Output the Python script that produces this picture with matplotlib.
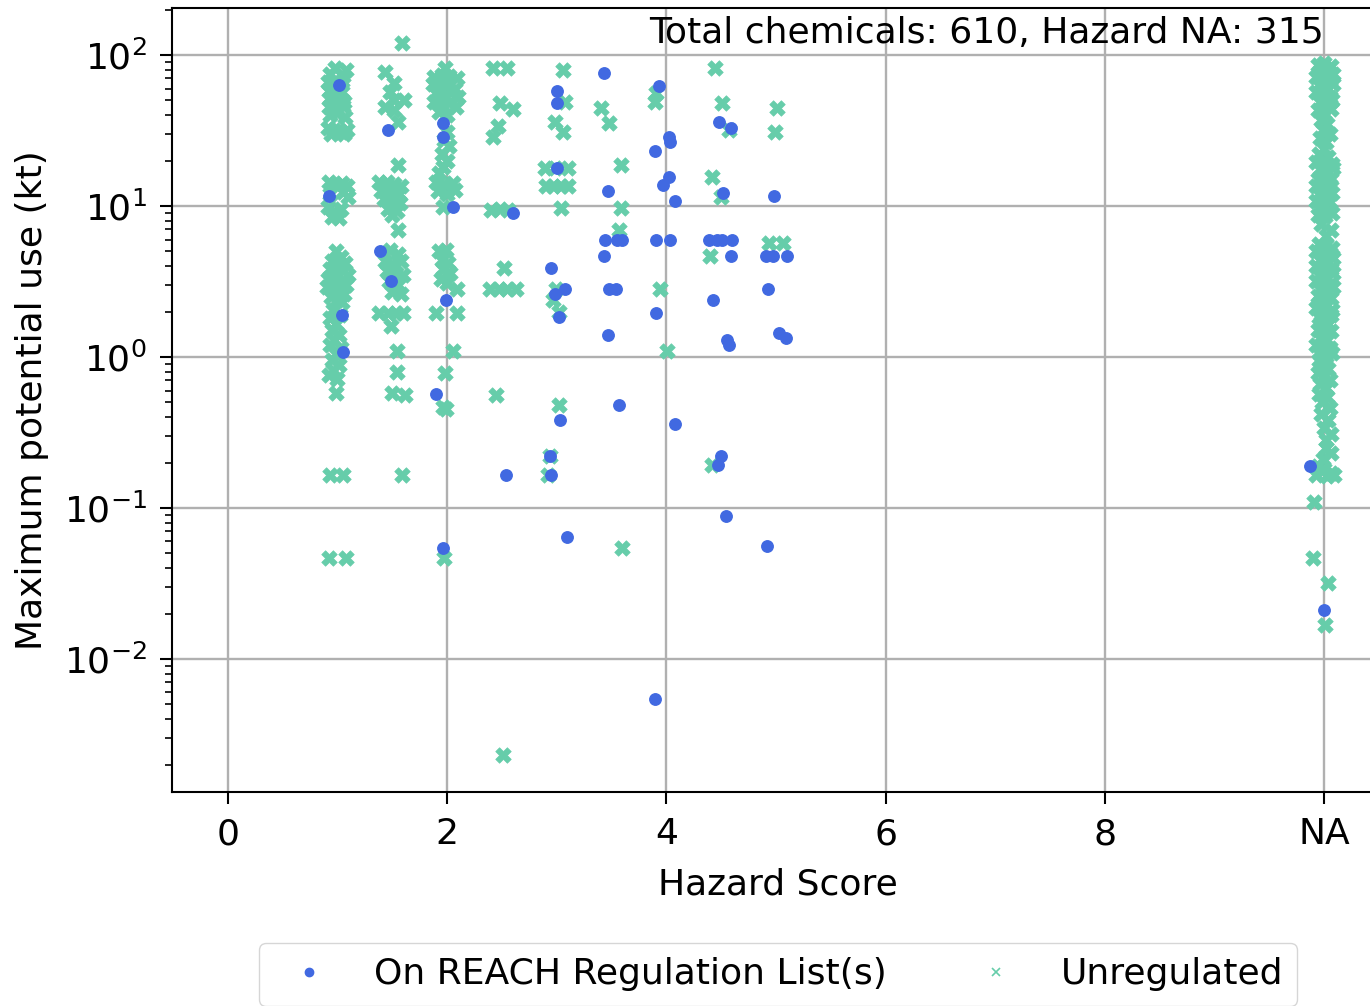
import matplotlib
matplotlib.use("Agg")
import matplotlib.pyplot as plt
from matplotlib.lines import Line2D

# chemicals on a REACH regulation list: hazard score (jittered) and max potential use (kt)
reach_x = [1.01, 0.92, 1.04, 1.05,
           1.46, 1.39, 1.49,
           1.96, 1.96, 2.05, 1.99, 1.90, 1.96,
           2.60, 2.54,
           3.00, 3.00, 3.00, 2.95, 2.98, 3.08, 3.02, 3.03, 2.94, 2.95, 3.09,
           3.43, 3.47, 3.44, 3.55, 3.60, 3.43, 3.48, 3.54, 3.47, 3.57,
           3.93, 4.02, 4.03, 3.90, 4.02, 3.97, 4.08, 3.91, 4.03, 3.91, 4.08, 3.90,
           4.48, 4.59, 4.52, 4.39, 4.46, 4.51, 4.60, 4.59, 4.43, 4.55, 4.57, 4.50, 4.47, 4.54,
           4.98, 4.91, 4.97, 5.10, 4.93, 5.03, 5.09, 4.92,
           9.87, 10.00]
reach_y = [63, 11.6, 1.9, 1.08,
           31.8, 5.0, 3.2,
           35.5, 28.6, 9.8, 2.4, 0.57, 0.054,
           9.0, 0.166,
           57.6, 48, 17.8, 3.9, 2.6, 2.8, 1.85, 0.38, 0.22, 0.166, 0.064,
           76, 12.6, 6.0, 6.0, 6.0, 4.7, 2.8, 2.8, 1.4, 0.48,
           62, 28.6, 26.5, 23, 15.6, 13.8, 10.8, 6.0, 6.0, 1.97, 0.36, 0.0054,
           36, 33, 12.2, 6.0, 6.0, 6.0, 6.0, 4.7, 2.4, 1.3, 1.2, 0.22, 0.193, 0.089,
           11.6, 4.7, 4.7, 4.7, 2.8, 1.44, 1.33, 0.056,
           0.19, 0.021]

# unregulated chemicals, hazard scores 1 .. 5
unreg_x = [0.98, 1.08, 0.93, 1.05, 0.91, 0.97, 1.04, 0.92, 0.98, 1.04, 0.93, 1.00, 1.06,
           0.92, 0.99, 1.05, 0.93, 1.00, 1.07, 0.91, 0.97, 1.03, 1.09, 0.94, 1.06,
           0.92, 0.98, 1.04, 1.09, 0.93, 1.05, 1.10, 0.91, 0.97, 1.03, 0.95, 1.01,
           0.99, 1.03, 0.95, 1.01, 1.07, 0.93, 0.99, 1.05, 1.10, 0.91, 0.97, 1.03, 1.08,
           0.90, 0.96, 1.02, 1.06, 0.94, 1.00, 1.04,
           0.96, 1.02, 0.93, 0.99, 0.95, 1.01, 0.97, 0.93, 1.03, 0.99, 0.95, 1.01, 0.96, 0.92, 1.00,
           0.99, 0.93, 1.05, 0.92, 1.08,
           1.59, 1.43, 1.52, 1.48, 1.52, 1.61, 1.43, 1.52, 1.55,
           1.55, 1.38, 1.45, 1.52, 1.58, 1.40, 1.48, 1.56, 1.42, 1.50, 1.57, 1.46, 1.54, 1.50,
           1.55, 1.48, 1.55, 1.43, 1.50, 1.58, 1.45, 1.53, 1.60, 1.47, 1.55, 1.50, 1.58,
           1.38, 1.46, 1.53, 1.60, 1.49, 1.54, 1.54, 1.50, 1.62, 1.59,
           1.98, 1.88, 1.95, 2.02, 2.09, 1.87, 1.93, 2.00, 2.07, 1.90, 1.97, 2.04, 2.10,
           1.88, 1.95, 2.02, 2.08, 1.93, 2.00,
           2.00, 1.97, 2.02, 1.95, 2.00, 1.96, 1.93, 1.90, 1.97, 2.05, 1.92, 2.00, 2.07, 1.96,
           1.93, 1.99, 1.95, 2.01, 1.96, 2.03, 1.94, 2.00,
           2.09, 1.90, 2.09, 2.05, 1.98, 1.96, 1.99, 1.97,
           2.42, 2.55, 2.48, 2.60, 2.46, 2.42, 2.40, 2.48, 2.56, 2.52, 2.39, 2.47, 2.55, 2.63,
           2.45, 2.51,
           3.06, 3.08, 2.98, 3.06, 2.89, 2.98, 3.10, 2.90, 2.97, 3.04, 3.10, 3.04, 2.99, 2.97,
           3.02, 3.02, 2.94, 2.92,
           3.40, 3.48, 3.59, 3.59, 3.57, 3.60,
           3.91, 3.90, 3.94, 4.01,
           4.44, 4.51, 4.57, 4.42, 4.50, 4.40, 4.42,
           5.01, 4.99, 4.94, 5.06]
unreg_y = [82, 80, 75, 73, 66, 64, 67, 58, 56, 57, 52, 50, 49,
           45, 44, 46, 40, 41, 39, 33, 32, 31, 32, 30, 30,
           14.5, 14, 14.2, 13.6, 12, 12.3, 11.5, 9.8, 9.2, 9.5, 8.5, 8.3,
           5.0, 4.6, 4.3, 4.1, 4.2, 3.8, 3.6, 3.7, 3.5, 3.3, 3.2, 3.1, 3.0,
           2.9, 2.8, 2.7, 2.6, 2.5, 2.4, 2.3,
           2.05, 1.9, 1.8, 1.65, 1.5, 1.4, 1.3, 1.2, 1.15, 1.05, 0.95, 0.88, 0.82, 0.76, 0.72,
           0.58, 0.166, 0.166, 0.047, 0.047,
           120, 77, 65, 57, 50, 50, 45, 43, 36,
           18.7, 14.5, 14.5, 14, 13.6, 12.5, 12.2, 12, 11.2, 11, 10.5, 9.6, 9.2, 8.7,
           6.9, 5.1, 4.8, 4.3, 4.1, 4.3, 3.7, 3.6, 3.5, 3.2, 3.0, 2.7, 2.6,
           1.95, 1.95, 1.95, 1.95, 1.6, 1.1, 0.8, 0.58, 0.56, 0.166,
           82, 72, 74, 73, 70, 64, 62, 65, 60, 56, 54, 57, 53,
           49, 47, 48, 45, 42, 40,
           31, 27.5, 25, 22, 20, 18, 16.5, 14.5, 14, 14.2, 12.5, 12, 12.7, 9.8,
           5.0, 5.1, 4.4, 4.2, 3.8, 3.6, 3.3, 3.1,
           2.8, 1.95, 1.95, 1.1, 0.78, 0.47, 0.45, 0.047,
           82, 82, 48, 44, 34, 28.6, 9.4, 9.5, 9.4, 3.9, 2.8, 2.8, 2.8, 2.8,
           0.56, 0.0023,
           80, 49, 36, 31, 17.8, 17.8, 17.8, 13.5, 13.5, 13.5, 13.5, 9.7, 2.8, 2.4,
           2.0, 0.48, 0.22, 0.166,
           44.6, 35.5, 18.7, 9.7, 6.9, 0.054,
           56, 49, 2.8, 1.1,
           82, 48, 31.8, 15.6, 11.5, 4.7, 0.193,
           44.6, 31, 5.7, 5.7]

# unregulated chemicals with no hazard score (plotted at the "NA" position)
na_x = [9.94, 10.00, 10.06, 9.96, 10.03, 10.08, 9.93, 9.99, 10.05, 9.95, 10.02, 10.08,
        9.93, 9.99, 10.05, 9.96, 10.02, 10.07, 9.94, 10.00, 10.06, 9.97, 10.03, 9.99,
        10.05, 9.96, 10.02, 10.00, 9.95, 10.04, 9.93, 10.00, 10.07, 9.96, 10.03, 10.08,
        9.94, 10.00, 10.06, 9.93, 9.99, 10.05, 9.95, 10.02, 10.07, 9.93, 9.99, 10.05,
        9.96, 10.03, 9.94, 10.01, 10.07,
        9.97, 10.06, 10.02,
        9.95, 10.02, 10.07, 9.93, 9.99, 10.05, 9.96, 10.03, 10.08, 9.93, 10.00, 10.06,
        9.95, 10.02, 10.08, 9.93, 9.99, 10.05, 9.96, 10.03, 10.08, 9.94, 10.00, 10.06,
        9.96, 10.03, 9.93, 10.00, 10.07, 9.95, 10.02, 10.06, 9.97, 10.04, 10.00,
        9.94, 10.00, 10.06, 9.96, 10.03, 9.93, 9.99, 10.05, 9.96, 10.02, 10.07, 9.95,
        10.01, 9.97, 10.04, 9.94, 10.00,
        10.05, 9.96, 10.02, 9.95, 10.03, 9.98, 10.05, 9.97, 10.04, 10.00, 10.06, 10.02,
        10.02, 10.06, 9.99, 9.94, 10.00, 10.06, 9.93, 10.03, 10.09,
        9.91, 9.90, 10.04, 10.01]
na_y = [86, 88, 84, 78, 80, 75, 72, 70, 68, 63, 61, 64,
        57, 55, 53, 49, 47, 50, 43, 41, 44, 37, 35, 32,
        30, 28, 26.5, 24, 22, 21, 19.5, 18.5, 19, 17.5, 17, 17.8,
        15, 14.8, 15.2, 13.5, 13.2, 13.8, 12, 11.6, 12.2, 10.8, 10.4, 10.6,
        9.5, 9.2, 8.7, 8.6, 9.0,
        7.6, 6.9, 6.3,
        5.6, 5.5, 5.3, 5.0, 4.8, 4.9, 4.4, 4.3, 4.5, 4.0, 3.9, 3.8,
        3.5, 3.4, 3.6, 3.2, 3.1, 3.0, 2.8, 2.75, 2.9, 2.55, 2.5, 2.45,
        2.3, 2.2, 2.1, 2.0, 2.05, 1.85, 1.8, 1.9, 1.7, 1.65, 1.58,
        1.5, 1.45, 1.48, 1.33, 1.3, 1.2, 1.17, 1.15, 1.05, 1.02, 1.06, 0.95,
        0.92, 0.85, 0.83, 0.78, 0.75,
        0.7, 0.66, 0.62, 0.57, 0.54, 0.5, 0.46, 0.42, 0.38, 0.34, 0.31, 0.28,
        0.25, 0.23, 0.21, 0.19, 0.18, 0.17, 0.165, 0.162, 0.165,
        0.11, 0.047, 0.032, 0.0167]

xticks = [0, 2, 4, 6, 8, 10]
xtick_labels = ['0', '2', '4', '6', '8', 'NA']

reach_color = 'royalblue'
unreg_color = 'mediumaquamarine'

fs = 26
plt.rcParams['font.family'] = ['DejaVu Sans']

fig = plt.figure(figsize=(13.7, 10.06), dpi=100)
ax = fig.add_axes([0.1255, 0.2127, 0.885, 0.7793])

ax.scatter(unreg_x + na_x, unreg_y + na_y, marker='X', s=125, color=unreg_color,
           linewidths=0.5, zorder=3)
ax.scatter(reach_x, reach_y, marker='o', s=68, color=reach_color, zorder=4)

ax.set_yscale('log')
ax.set_xlim(-0.51, 10.55)
ax.set_ylim(10 ** -2.881, 10 ** 2.311)
ax.set_xticks(xticks)
ax.set_xticklabels(xtick_labels)
ax.set_xlabel('Hazard Score', fontsize=fs, labelpad=12)
ax.set_ylabel('Maximum potential use (kt)', fontsize=fs, labelpad=10.5)
ax.tick_params(axis='both', which='major', labelsize=fs, length=8.5, width=1.5, pad=9.5)
ax.tick_params(axis='y', which='minor', length=5, width=1.2)
ax.grid(True, which='major', color='#b0b0b0', linewidth=1.7)
ax.set_axisbelow(True)
for sp in ax.spines.values():
    sp.set_linewidth(1.5)

ax.text(0.95, 0.99, 'Total chemicals: 610, Hazard NA: 315', transform=ax.transAxes,
        ha='right', va='top', fontsize=fs)

handles = [Line2D([0], [0], linestyle='none', marker='o', markersize=6,
                  color=reach_color),
           Line2D([0], [0], linestyle='none', marker='x', markersize=6,
                  markeredgewidth=1.2, color=unreg_color)]
ax.legend(handles, ['On REACH Regulation List(s)', 'Unregulated'], ncol=2,
          loc='upper center', bbox_to_anchor=(0.5, -0.1695), fontsize=fs,
          frameon=True)

fig.savefig('out.png', dpi=100)
